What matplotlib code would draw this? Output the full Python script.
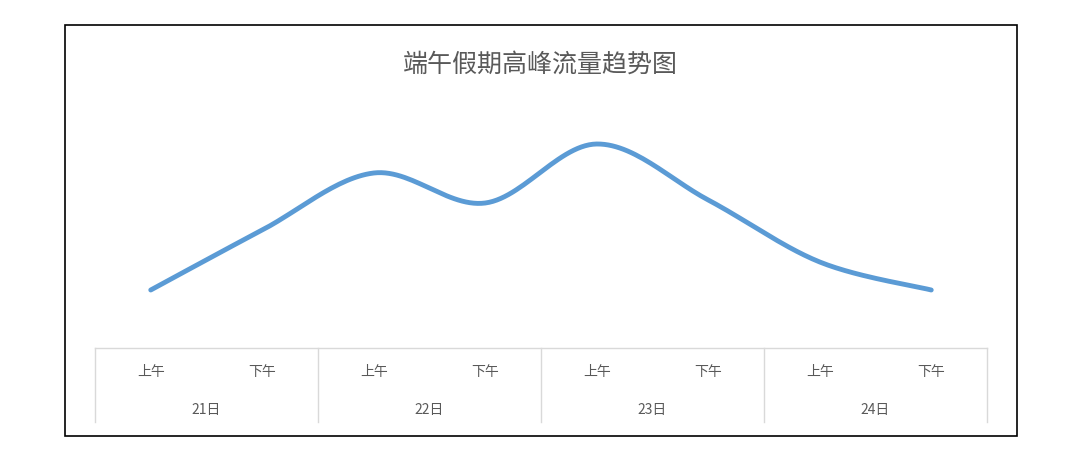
import matplotlib.pyplot as plt
import numpy as np
from matplotlib.patches import Rectangle

plt.rcParams['font.family'] = ['Noto Sans CJK SC', 'DejaVu Sans']

halves = ['上午', '下午'] * 4
days = ['21日', '22日', '23日', '24日']
flow = [58, 118, 175, 145, 204, 148, 86, 58]
title = '端午假期高峰流量趋势图'


def smooth(xs, ys, n=30):
    # Catmull-Rom style smoothing, like the spreadsheet "smoothed line"
    xs = np.asarray(xs, float)
    ys = np.asarray(ys, float)
    px = np.concatenate([[xs[0]], xs, [xs[-1]]])
    py = np.concatenate([[ys[0]], ys, [ys[-1]]])
    ox, oy = [], []
    t = np.linspace(0, 1, n)
    for i in range(1, len(px) - 2):
        for p, o in ((px, ox), (py, oy)):
            p0, p1, p2, p3 = p[i - 1], p[i], p[i + 1], p[i + 2]
            m1 = (p2 - p0) / 2
            m2 = (p3 - p1) / 2
            h00 = 2 * t**3 - 3 * t**2 + 1
            h10 = t**3 - 2 * t**2 + t
            h01 = -2 * t**3 + 3 * t**2
            h11 = t**3 - t**2
            o.extend(h00 * p1 + h10 * m1 + h01 * p2 + h11 * m2)
    return np.array(ox), np.array(oy)


fig = plt.figure(figsize=(10.8, 4.62), dpi=100)
fig.patches.append(Rectangle((65 / 1080, 1 - 436 / 462), 952 / 1080, 411 / 462,
                             transform=fig.transFigure, fill=False,
                             edgecolor='black', linewidth=1.2))
fig.text(540 / 1080, 1 - 65 / 462, title, ha='center', va='center',
         fontsize=18, color='#595959')

ax = fig.add_axes([95 / 1080, 1 - 348 / 462, 892 / 1080, 238 / 462])
ax.set_xlim(-0.5, 7.5)
ax.set_ylim(0, 238)
ax.axis('off')

x = np.arange(len(flow))
sx, sy = smooth(x, flow)
ax.plot(sx, sy, color='#5B9BD5', linewidth=3.5, solid_capstyle='round')

# category axis
tr = ax.get_xaxis_transform()
grey = '#D9D9D9'
ax.plot([-0.5, 7.5], [0, 0], color=grey, lw=1, transform=tr, clip_on=False)
for b in [-0.5, 1.5, 3.5, 5.5, 7.5]:
    ax.plot([b, b], [0, -74 / 238], color=grey, lw=1, transform=tr, clip_on=False)
for i, h in enumerate(halves):
    ax.text(i, -24 / 238, h, transform=tr, ha='center', va='center',
            fontsize=10, color='#595959')
for j, d in enumerate(days):
    ax.text(2 * j + 0.5, -62 / 238, d, transform=tr, ha='center', va='center',
            fontsize=10, color='#595959')

fig.savefig('out.png', dpi=100)
